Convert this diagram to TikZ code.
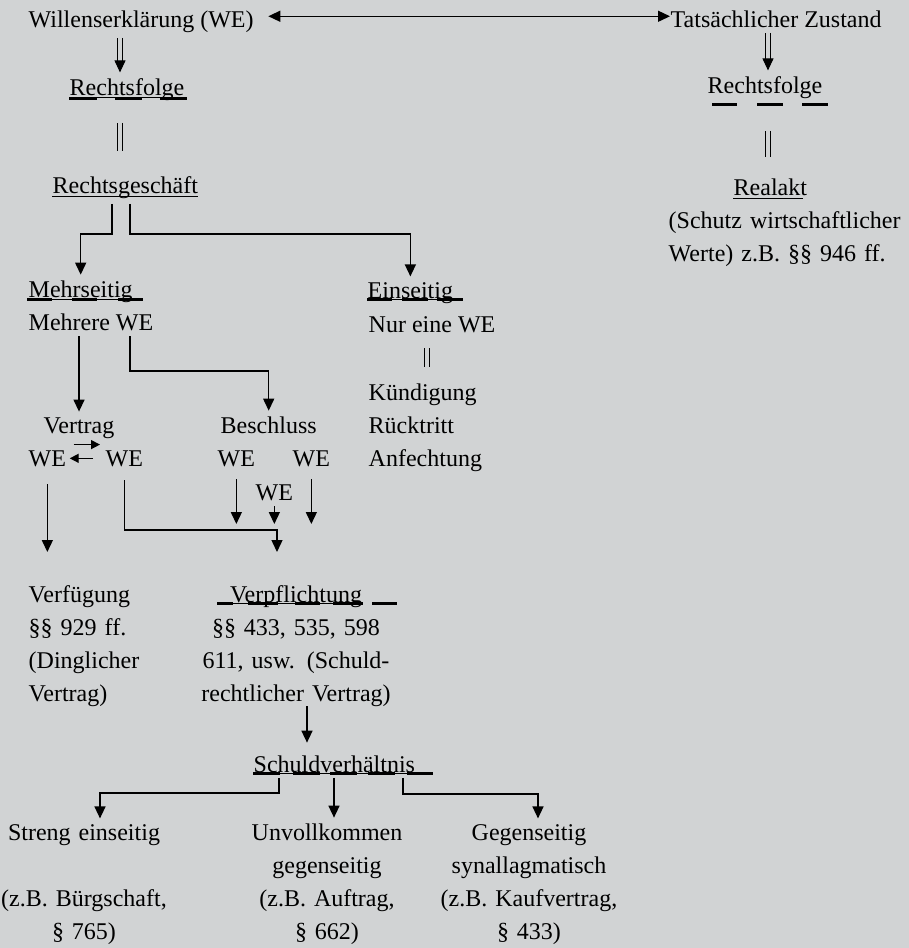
\documentclass[tikz,border=0pt]{standalone}
\usepackage{fontspec}
\setmainfont{Liberation Serif}
\usetikzlibrary{arrows.meta, positioning}
\definecolor{bg}{RGB}{209,211,212}

\begin{document}
\begin{tikzpicture}[x=0.5pt, y=-0.5pt, line width=0.7pt,
    >={Triangle[width=5.5pt,length=6pt]},
    txt/.style={inner xsep=0pt, inner ysep=2.5pt, anchor=base west,
      font=\fontsize{12}{16.6}\selectfont},
    blk/.style={txt, text width=#1, align=left},
    ctr/.style={txt, anchor=base, text width=#1, align=center},
    dbl/.style={line width=0.5pt, double=bg, double distance=2.4pt},
    pfeilchen/.style={-{Triangle[width=4.5pt,length=4.5pt]}},
    ul/.style={line width=0.5pt},
    ulb/.style={line width=1.5pt}]
  \useasboundingbox (0,0) rectangle (909,948);
  \fill[bg] (0,0) rectangle (909,948);

  % Spalten der Verbindungslinien
  \coordinate (c1) at (120,0);
  \coordinate (c2) at (768,0);
  \coordinate (c3) at (112,0);
  \coordinate (c4) at (130,0);
  \coordinate (c5) at (427,0);
  \coordinate (c8) at (307,0);
  \coordinate (c9) at (279,0);
  \coordinate (c10) at (100,0);
  \coordinate (c11) at (334,0);
  \coordinate (c12) at (403,0);
  \coordinate (c13) at (538,0);
  \coordinate (bend) at (0,524);
  \coordinate (vend) at (0,552);
  \coordinate (vp) at (277,552);

  % Kopfzeile
  \node[txt] (we) at (28,27) {Willenserklärung (WE)};
  \node[txt] (tz) at (670,27) {Tatsächlicher Zustand};
  \draw[<->, shorten <=7pt] ([yshift=2.5pt]we.east) -- ([yshift=2.5pt]we.east -| tz.west);

  % linke Seite
  \node[txt] (rf1) at (69,95) {Rechtsfolge};
  \node[txt] (rg) at (52,193) {Rechtsgeschäft};
  \draw[dbl, ->] (we.south -| c1) -- (rf1.north -| c1);
  \draw[dbl, shorten <=8.5pt, shorten >=9.5pt] (rf1.south -| c1) -- (rg.north -| c1);

  % rechte Seite
  \node[txt] (rf2) at (707,93) {Rechtsfolge};
  \node[txt] (real) at (733,195) {Realakt};
  \node[blk=125pt] (schutz) at (668,228) {(Schutz wirtschaftlicher\\Werte) z.B. §§ 946 ff.};
  \draw[dbl, ->] (tz.south -| c2) -- (rf2.north -| c2);
  \draw[dbl, shorten <=13.5pt, shorten >=8pt] (rf2.south -| c2) -- (real.north -| c2);

  % Mehrseitig / Einseitig
  \node[txt] (mehr) at (28,297) {Mehrseitig};
  \node[txt] (mehrwe) at (28,330) {Mehrere WE};
  \node[txt] (ein) at (367,298) {Einseitig};
  \node[txt] (nurwe) at (368,332) {Nur eine WE};
  \node[blk=70pt] (gestalt) at (368,400) {Kündigung\\Rücktritt\\Anfechtung};
  \draw[->] (rg.south -| c3) -- ++(0,30) -| (mehr.north);
  \draw[->] (rg.south -| c4) -- ++(0,30) -| (ein.north);
  \draw[dbl, shorten <=5pt, shorten >=5.5pt] (nurwe.south -| c5) -- (gestalt.north -| c5);

  % Vertrag / Beschluss
  \node[txt] (vertrag) at (43,433) {Vertrag};
  \node[txt] (beschluss) at (220,433) {Beschluss};
  \node[txt] (weA) at (28,466) {WE};
  \node[txt] (weB) at (105,466) {WE};
  \node[txt] (weC) at (217,466) {WE};
  \node[txt] (weD) at (292,466) {WE};
  \node[txt] (weE) at (255,500) {WE};
  \draw[->] (mehrwe.south -| vertrag.north) -- (vertrag.north);
  \draw[->] (mehrwe.south -| c4) -- ++(0,35) -| (beschluss.north);
  \draw[pfeilchen, shorten <=3.5pt, shorten >=2.5pt] (weA.north east) -- (weA.north east -| weB.west);
  \draw[pfeilchen, shorten <=6pt, shorten >=1.5pt] (weB.west) -- (weA.east);
  \draw[->, shorten <=3.5pt] (weC.south) -- (weC.south |- bend);
  \draw[->, shorten <=3.5pt] (weD.south) -- (weD.south |- bend);
  \draw[->] (weE.south) -- (weE.south |- bend);
  \draw[->, shorten <=6pt] (weA.south) -- (weA.south |- vend);
  \draw[->, shorten <=4pt] (weB.south) -- ++(0,58) -| (vp);

  % Verfügung / Verpflichtung
  \node[blk=70pt] (verf) at (28,602) {Verfügung\\§§ 929 ff.\\(Dinglicher\\Vertrag)};
  \node[ctr=110pt] (verpf) at (296,602) {Verpflichtung\\§§ 433, 535, 598\\611, usw. (Schuld-\\rechtlicher Vertrag)};
  \node[txt] (schuld) at (253,772) {Schuldverhältnis};
  \draw[->, shorten <=-3pt, shorten >=3.5pt] (verpf.south -| c8) -- (schuld.north -| c8);

  % Arten des Schuldverhältnisses
  \begin{scope}[every node/.append style={font=\fontsize{12}{16.2}\selectfont}]
    \node[ctr=95pt] (col1) at (84,840) {Streng einseitig\\~\\(z.B. Bürgschaft,\\§ 765)};
    \node[ctr=95pt] (col2) at (327,840) {Unvollkommen\\gegenseitig\\(z.B. Auftrag,\\§ 662)};
    \node[ctr=95pt] (col3) at (529,840) {Gegenseitig\\synallagmatisch\\(z.B. Kaufvertrag,\\§ 433)};
  \end{scope}
  \draw[->] (schuld.south -| c9) -- ++(0,15) -| (col1.north -| c10);
  \draw[->] (schuld.south -| c11) -- (col2.north -| c11);
  \draw[->] (schuld.south -| c12) -- ++(0,16) -| (col3.north -| c13);

  % Unterstreichungen
  \draw[ul] (69,97.5) -- (187,97.5);
  \foreach \a/\b in {69/97, 115/142, 160/187} \draw[ulb] (\a,98) -- (\b,98);
  \foreach \a/\b in {712/737, 757/783, 802/828} \draw[ulb] (\a,104) -- (\b,104);
  \draw[ul] (52,196) -- (198,196);
  \draw[ul] (733,198) -- (803,198);
  \draw[ul] (27,299) -- (143,299);
  \foreach \a/\b in {27/52, 72/97, 118/143} \draw[ulb] (\a,299) -- (\b,299);
  \draw[ul] (367,299) -- (463,299);
  \foreach \a/\b in {367/392, 402/428, 437/463} \draw[ulb] (\a,299) -- (\b,299);
  \draw[ul] (217,603) -- (363,603);
  \foreach \a/\b in {217/233, 248/278, 295/320, 333/363, 372/397} \draw[ulb] (\a,603) -- (\b,603);
  \draw[ul] (253,773) -- (433,773);
  \foreach \a/\b in {253/280, 293/320, 330/357, 368/395, 407/433} \draw[ulb] (\a,773) -- (\b,773);
\end{tikzpicture}
\end{document}
